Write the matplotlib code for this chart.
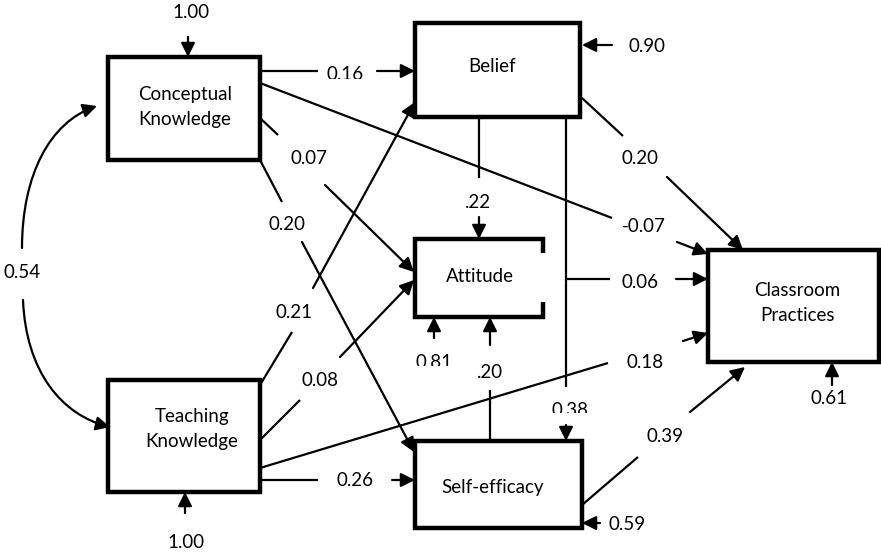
import matplotlib
matplotlib.use('Agg')
import matplotlib.pyplot as plt
from matplotlib.patches import Rectangle, FancyArrowPatch
from matplotlib.path import Path
from matplotlib.transforms import Bbox

plt.rcParams['font.family'] = ['Lato', 'DejaVu Sans']

# node names
node_names = ['Conceptual\nKnowledge', 'Belief', 'Attitude',
              'Classroom\nPractices', 'Teaching\nKnowledge', 'Self-efficacy']
# path coefficients (label of each path)
path_coefs = ['0.16', '0.07', '0.20', '-0.07', '0.21', '0.08', '0.18',
              '0.26', '.22', '.20', '0.06', '0.38', '0.20', '0.39']
# residual / error terms
error_vals = ['1.00', '0.90', '0.81', '0.61', '1.00', '0.59']
corr_val = '0.54'

# ---- layout (pixels, y down) ----
W, H = 881, 556
boxes = [(108, 57, 260, 160), (415, 23, 580, 117), (415, 239, 543, 317),
         (708, 250, 879, 362), (108, 380, 260, 492), (415, 441, 582, 528)]
name_pos = [(185, 107), (492, 66), (480, 277), (797, 303), (192, 429), (493, 487)]

# each path: plain segment before label, label position, arrow segment after
paths = [
    ([(260, 71), (318, 71)], (345, 75), [(377, 71), (415, 71)]),
    ([(260, 118), (278, 135)], (309, 158), [(325, 185), (414, 272)]),
    ([(260, 160), (282, 202)], (287, 225), [(302, 242), (414, 452)]),
    ([(260, 83), (612, 218)], (644, 227), [(677, 242), (708, 254)]),
    ([(260, 385), (292, 332)], (294, 313), [(313, 288), (415, 102)]),
    ([(260, 440), (300, 400)], (320, 380), [(340, 357), (414, 280)]),
    ([(260, 468), (608, 363)], (645, 362), [(683, 341), (708, 333)]),
    ([(260, 480), (318, 480)], (355, 481), [(392, 480), (415, 480)]),
    ([(479, 117), (479, 178)], (478, 202), [(479, 217), (479, 239)]),
    ([(490, 441), (490, 390)], (490, 372), [(490, 345), (490, 317)]),
    ([(566, 279), (610, 279)], (640, 282), [(676, 279), (708, 279)]),
    ([(566, 117), (566, 387)], (570, 410), [(566, 425), (566, 441)]),
    ([(582, 98), (623, 136)], (640, 158), [(667, 177), (743, 250)]),
    ([(582, 505), (638, 457)], (665, 436), [(690, 412), (745, 367)]),
]
# label cut off at the bottom (y pixel) for some paths
path_clip = {0: 79, 11: 413}

errors = [
    ((191, 13), [(188, 37), (188, 57)]),
    ((647, 47), [(612, 45), (582, 45)]),
    ((434, 362), [(434, 338), (434, 317)]),
    ((829, 398), [(832, 385), (832, 362)]),
    ((186, 543), [(185, 513), (185, 492)]),
    ((627, 525), [(600, 523), (582, 523)]),
]
error_clip = {2: 366}

fig = plt.figure(figsize=(W / 100, H / 100), dpi=100)
ax = fig.add_axes([0, 0, 1, 1])
ax.set_xlim(0, W)
ax.set_ylim(H, 0)
ax.axis('off')

LW = 1.6
BOX_LW = 3.2
FS = 13.5
HEAD = 21


def seg(pts):
    ax.plot([p[0] for p in pts], [p[1] for p in pts], color='black', lw=LW,
            solid_capstyle='butt')


def arr(p0, p1):
    ax.add_patch(FancyArrowPatch(p0, p1, arrowstyle='-|>', mutation_scale=HEAD,
                                 lw=LW, color='black', shrinkA=0, shrinkB=0))


def label(txt, xy, cut=None):
    t = ax.text(xy[0], xy[1], txt, ha='center', va='center', fontsize=FS)
    if cut is not None:
        t.set_clip_box(Bbox.from_extents(0, H - cut, W, H))
        t.set_clip_on(True)


# boxes
for i, (x0, y0, x1, y1) in enumerate(boxes):
    if node_names[i] == 'Attitude':
        ax.plot([x1, x1, x0, x0, x1, x1], [253, y0, y0, y1, y1, 302],
                color='black', lw=BOX_LW, solid_joinstyle='miter',
                solid_capstyle='butt')
    else:
        ax.add_patch(Rectangle((x0, y0), x1 - x0, y1 - y0, fill=False,
                               lw=BOX_LW, ec='black', joinstyle='miter'))
    ax.text(name_pos[i][0], name_pos[i][1], node_names[i], ha='center',
            va='center', fontsize=FS, linespacing=1.55)

# paths
for i, (before, lab, after) in enumerate(paths):
    seg(before)
    label(path_coefs[i], lab, path_clip.get(i))
    arr(after[0], after[1])

# error terms
for i, (lab, a) in enumerate(errors):
    arr(a[0], a[1])
    label(error_vals[i], lab, error_clip.get(i))

# correlation between the two knowledge variables
upper = Path([(22, 248), (22, 175), (50, 122), (97, 106)],
             [Path.MOVETO, Path.CURVE4, Path.CURVE4, Path.CURVE4])
lower = Path([(23, 300), (26, 372), (62, 415), (110, 427)],
             [Path.MOVETO, Path.CURVE4, Path.CURVE4, Path.CURVE4])
for p in (upper, lower):
    ax.add_patch(FancyArrowPatch(path=p, arrowstyle='-|>', mutation_scale=HEAD,
                                 lw=LW, color='black', transform=ax.transData))
label(corr_val, (22, 272))

fig.savefig('out.png', dpi=100)
